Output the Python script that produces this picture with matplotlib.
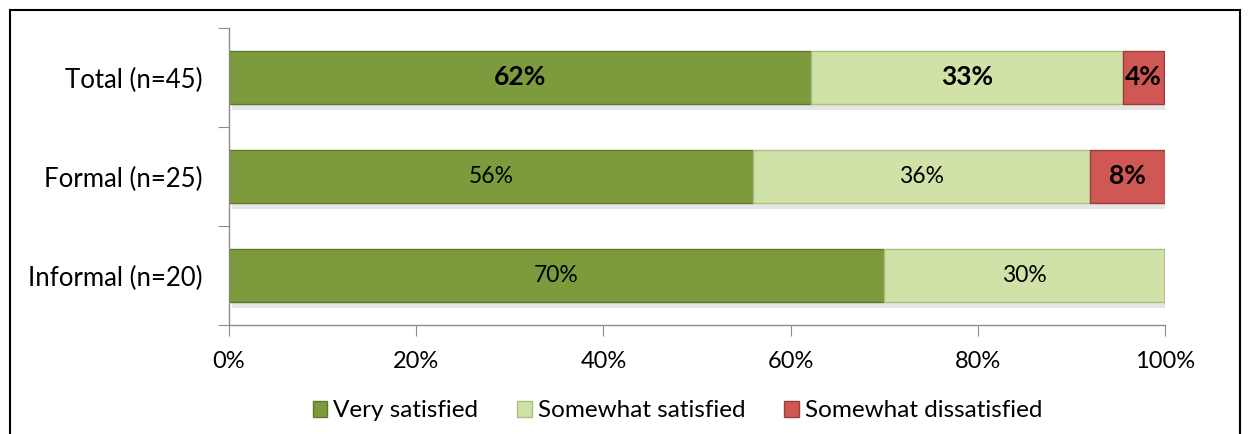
import numpy as np
import matplotlib.pyplot as plt
from matplotlib.lines import Line2D
from matplotlib.patches import Patch

plt.rcParams['font.family'] = ['Lato', 'DejaVu Sans']

categories = ['Total (n=45)', 'Formal (n=25)', 'Informal (n=20)']
very = [62.2, 56, 70]
somewhat = [33.3, 36, 30]
dissat = [4.4, 8, 0]
series = ['Very satisfied', 'Somewhat satisfied', 'Somewhat dissatisfied']
labels_very = ['62%', '56%', '70%']
labels_some = ['33%', '36%', '30%']
labels_dis = ['4%', '8%', '']
bold_rows = {'very': [True, False, False], 'some': [True, False, False], 'dis': [True, True, False]}

colors = ['#7d9b3d', '#d0e2a7', '#cf5754']
edges = ['#5f7a2c', '#aabf82', '#9e3c39']

fig = plt.figure(figsize=(12.52, 4.34), dpi=100)
ax = fig.add_axes([0.1829, 0.2512, 0.7476, 0.6843])

y = np.arange(len(categories))[::-1]  # Total on top
h = 0.53
left = np.zeros(len(categories))
for vals, lab, key, c, e in [(very, labels_very, 'very', colors[0], edges[0]),
                              (somewhat, labels_some, 'some', colors[1], edges[1]),
                              (dissat, labels_dis, 'dis', colors[2], edges[2])]:
    vals = np.array(vals, dtype=float)
    # soft shadow
    ax.barh(y - 0.06, vals, left=left + 0.3, height=h, color='#000000', alpha=0.10,
            linewidth=0, zorder=1)
    ax.barh(y, vals, left=left, height=h, color=c, edgecolor=e, linewidth=1.0, zorder=2)
    for i in range(len(vals)):
        if vals[i] <= 0:
            continue
        b = bold_rows[key][i]
        fs = 19 if b else 16.5
        ax.text(left[i] + vals[i] / 2, y[i], lab[i], ha='center', va='center',
                fontsize=fs, fontweight='bold' if b else 'normal', color='black', zorder=3)
    left += vals

ax.set_xlim(0, 100)
ax.set_ylim(-0.5, len(categories) - 0.5)
ax.set_xticks(np.arange(0, 101, 20))
ax.set_xticklabels([f'{v}%' for v in range(0, 101, 20)], fontsize=17)
ax.set_yticks(np.arange(-0.5, len(categories), 1.0))
ax.set_yticklabels([])
ax.set_yticks(y, minor=True)
ax.set_yticklabels(categories, minor=True, fontsize=18.5)
ax.tick_params(axis='y', which='minor', length=0, pad=19)
ax.tick_params(axis='y', which='major', length=8, color='#8c8c8c', direction='out')
ax.tick_params(axis='x', length=8, color='#8c8c8c', direction='out', pad=10.5)
for s in ['top', 'right']:
    ax.spines[s].set_visible(False)
for s in ['left', 'bottom']:
    ax.spines[s].set_color('#8c8c8c')
    ax.spines[s].set_linewidth(1.0)

handles = [Patch(facecolor=colors[k], edgecolor=edges[k], label=series[k]) for k in range(3)]
fig.legend(handles=handles, loc='center', bbox_to_anchor=(0.541, 0.053), ncol=3,
           frameon=False, fontsize=17.5, handlelength=0.6, handleheight=0.6,
           columnspacing=1.6, handletextpad=0.25)

# outer frame
fig.add_artist(Line2D([0.008, 0.008], [0.0, 0.977], color='black', lw=1.5, transform=fig.transFigure))
fig.add_artist(Line2D([0.008, 0.9905], [0.977, 0.977], color='black', lw=1.5, transform=fig.transFigure))
fig.add_artist(Line2D([0.9905, 0.9905], [0.0, 0.977], color='black', lw=1.5, transform=fig.transFigure))

fig.savefig('out.png', dpi=100)
plt.close(fig)
